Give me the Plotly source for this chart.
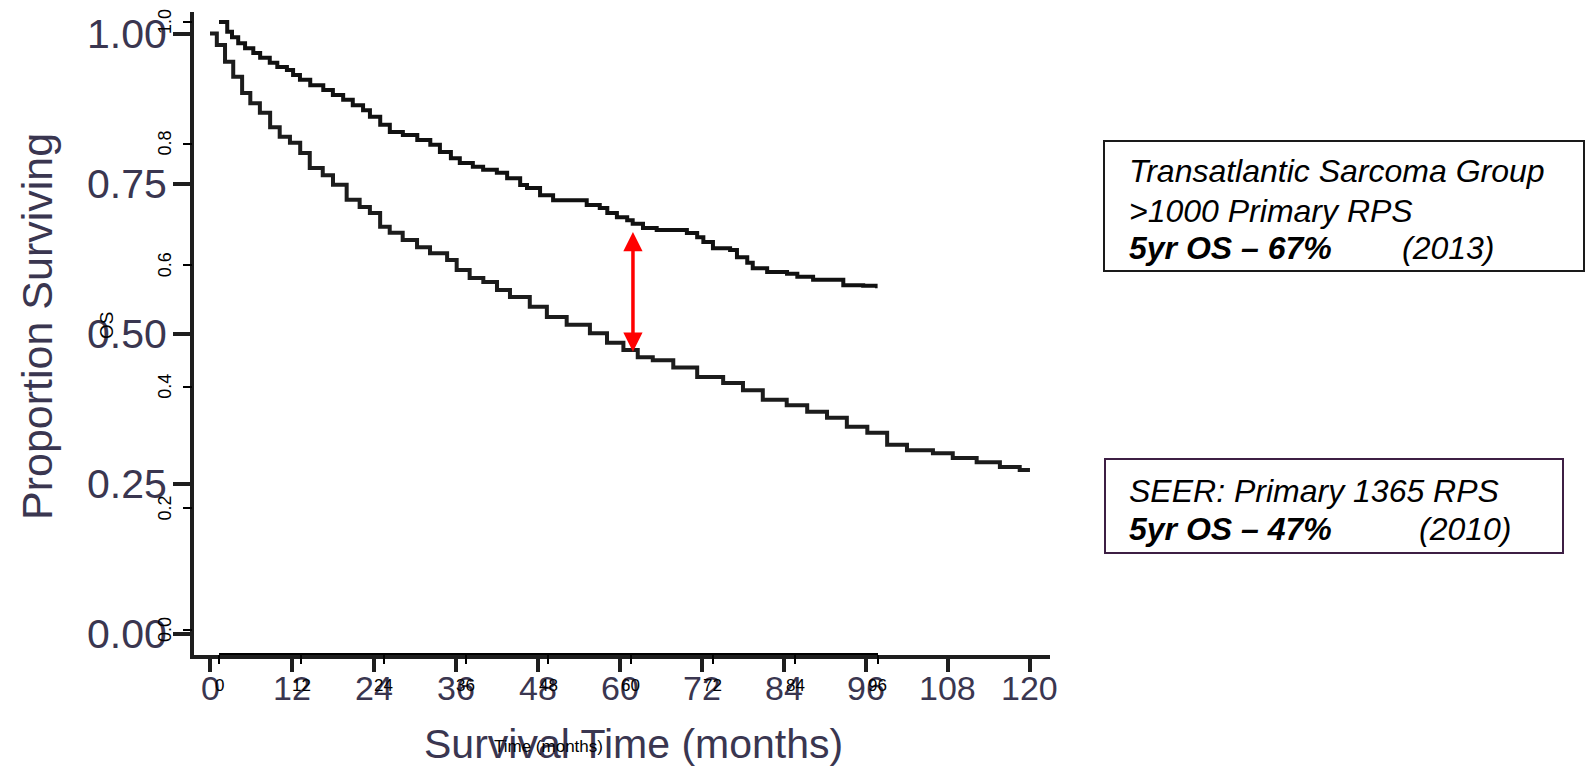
import plotly.graph_objects as go

# ---------------- data ----------------
# SEER primary RPS (main axes, 0-120 months)
seer_months = [0, 1.0, 2.2, 3.4, 4.7, 5.9, 7.3, 8.8, 10.2, 11.7, 13.2, 14.6, 16.5, 18.0, 20.0,
               21.9, 23.4, 24.9, 26.3, 28.2, 30.3, 32.2, 34.7, 36.1, 38.0, 40.0, 42.0, 43.9,
               46.8, 49.3, 52.2, 55.6, 58.1, 60.5, 62.6, 64.8, 67.8, 71.3, 75.1, 78.0, 80.9,
               84.4, 87.4, 90.3, 93.2, 96.2, 99.1, 102.0, 105.8, 108.7, 112.2, 115.6, 118.5, 120.0]
seer_surv = [1.0, 0.981, 0.953, 0.928, 0.901, 0.884, 0.868, 0.844, 0.828, 0.818, 0.801, 0.776,
             0.764, 0.748, 0.723, 0.711, 0.701, 0.678, 0.668, 0.656, 0.644, 0.634, 0.623, 0.606,
             0.593, 0.586, 0.573, 0.561, 0.545, 0.528, 0.515, 0.501, 0.485, 0.473, 0.461, 0.456,
             0.444, 0.428, 0.418, 0.406, 0.390, 0.381, 0.370, 0.360, 0.345, 0.335, 0.315, 0.306,
             0.301, 0.293, 0.286, 0.278, 0.273, 0.273]

# Transatlantic Sarcoma Group (overlaid axes, 0-96 months)
tsg_months = [0, 1.2, 1.9, 2.8, 3.8, 5.0, 6.0, 7.4, 8.5, 9.9, 10.8, 11.8, 13.3, 15.2, 16.6, 18.1,
              19.5, 21.0, 22.0, 23.5, 24.9, 26.8, 28.9, 30.8, 32.2, 33.8, 35.1, 37.0, 38.5, 40.5,
              42.0, 43.9, 44.9, 46.8, 48.7, 53.6, 55.5, 56.6, 58.0, 59.5, 60.3, 61.8, 63.8, 68.2,
              69.7, 70.6, 72.0, 74.5, 75.5, 77.0, 77.8, 79.9, 82.8, 84.3, 86.6, 91.0, 93.9, 95.9]
tsg_surv = [1.0, 0.984, 0.975, 0.965, 0.957, 0.949, 0.941, 0.933, 0.926, 0.921, 0.913, 0.905,
            0.896, 0.888, 0.880, 0.872, 0.863, 0.855, 0.844, 0.831, 0.819, 0.814, 0.806, 0.798,
            0.786, 0.776, 0.768, 0.762, 0.757, 0.752, 0.743, 0.732, 0.727, 0.715, 0.707, 0.699,
            0.694, 0.686, 0.679, 0.674, 0.668, 0.661, 0.658, 0.653, 0.646, 0.638, 0.628, 0.625,
            0.613, 0.604, 0.595, 0.589, 0.586, 0.581, 0.576, 0.567, 0.566, 0.562]

main_xticks = [0, 12, 24, 36, 48, 60, 72, 84, 96, 108, 120]
main_yticks = [0, 0.25, 0.5, 0.75, 1.0]
main_yticktext = ["0.00", "0.25", "0.50", "0.75", "1.00"]
sec_xticks = [0, 12, 24, 36, 48, 60, 72, 84, 96]
sec_yticks = [0, 0.2, 0.4, 0.6, 0.8, 1.0]
sec_yticktext = ["0.0", "0.2", "0.4", "0.6", "0.8", "1.0"]

arrow_month = 61.9
arrow_low, arrow_high = 0.47, 0.672

box1_lines = ["Transatlantic Sarcoma Group", ">1000 Primary RPS"]
box1_bold, box1_year = "5yr OS \u2013 67%", "(2013)"
box2_line = "SEER: Primary 1365 RPS"
box2_bold, box2_year = "5yr OS \u2013 47%", "(2010)"

# ---------------- geometry helpers (page pixels -> paper) ----------------
OFF = 8
W, H = 1593 - 2 * OFF, 775 - 2 * OFF


def px(x):
    return (x - OFF) / W


def py(y):
    return 1 - (y - OFF) / H


BIG = "Liberation Sans, Arial, sans-serif"
BIGCOL = "#3a3650"
AXCOL = "#1e1e1e"
SMALL = dict(family=BIG, size=17, color="black")

# main axes pixel geometry: t=0 at 210 px, 6.833 px / month ; S=0 at 634 px, 600.5 px / unit
X_L, X_R = 194, 1050
Y_B, Y_T = 655, 12
x_rng = [(X_L - 210) / 6.833, (X_R - 210) / 6.833]
y_rng = [(634 - Y_B) / 600.5, (634 - Y_T) / 600.5]

fig = go.Figure()
fig.add_trace(go.Scatter(x=seer_months, y=seer_surv, mode="lines", line=dict(color="#1c1c1c", width=4, shape="hv"),
                         xaxis="x", yaxis="y", showlegend=False, cliponaxis=False))
fig.add_trace(go.Scatter(x=tsg_months, y=tsg_surv, mode="lines", line=dict(color="#111111", width=4, shape="hv"),
                         xaxis="x2", yaxis="y2", showlegend=False, cliponaxis=False))

fig.update_layout(
    width=W, height=H, margin=dict(l=0, r=0, t=0, b=0),
    paper_bgcolor="white", plot_bgcolor="rgba(0,0,0,0)",
    showlegend=False,
    xaxis=dict(domain=[px(X_L), px(X_R)], range=x_rng, anchor="y",
               tickvals=main_xticks, showticklabels=False, ticks="outside", ticklen=13, tickwidth=4,
               tickcolor=AXCOL, showline=True, linewidth=4, linecolor=AXCOL, showgrid=False, zeroline=False),
    yaxis=dict(domain=[py(Y_B), py(Y_T)], range=y_rng, anchor="x",
               tickvals=main_yticks, showticklabels=False, ticks="outside", ticklen=17, tickwidth=4,
               tickcolor=AXCOL, showline=True, linewidth=4, linecolor=AXCOL, showgrid=False, zeroline=False),
    xaxis2=dict(domain=[px(219), px(877.6)], range=[0, 96], anchor="y2",
                tickvals=sec_xticks, showticklabels=False, ticks="outside", ticklen=9, tickwidth=1.5,
                tickcolor="black", showline=True, linewidth=1.5, linecolor="black", showgrid=False,
                zeroline=False),
    yaxis2=dict(domain=[py(653), py(12)], range=[(630 - 653) / 608, (630 - 12) / 608], anchor="free",
                position=px(192), tickvals=sec_yticks, showticklabels=False, ticks="outside", ticklen=9,
                tickwidth=1.5, tickcolor="black", showline=False, showgrid=False, zeroline=False),
)

annotations = []
# big main tick labels placed through the main axes
for v in main_xticks:
    annotations.append(dict(text=str(v), x=v, xref="x", y=py(688), yref="paper", showarrow=False,
                            font=dict(family=BIG, size=34, color=BIGCOL), xanchor="center", yanchor="middle"))
for v, t in zip(main_yticks, main_yticktext):
    annotations.append(dict(text=t, x=px(169), xref="paper", y=v, yref="y", showarrow=False,
                            font=dict(family=BIG, size=41, color=BIGCOL), xanchor="right", yanchor="middle"))

annotations += [
    dict(text="Proportion Surviving", x=px(37), y=py(327), xref="paper", yref="paper", textangle=-90,
         showarrow=False, font=dict(family=BIG, size=43, color=BIGCOL), xanchor="center", yanchor="middle"),
    dict(text="Survival Time (months)", x=px(633), y=py(744), xref="paper", yref="paper",
         showarrow=False, font=dict(family=BIG, size=41, color=BIGCOL), xanchor="center", yanchor="middle"),
]

# small overlaid-plot labels, drawn on top of the big ones
for v in sec_xticks:
    annotations.append(dict(text=str(v), x=v, xref="x2", y=py(685), yref="paper", showarrow=False,
                            font=SMALL, xanchor="center", yanchor="middle"))
for v, t in zip(sec_yticks, sec_yticktext):
    annotations.append(dict(text=t, x=px(165), xref="paper", y=v, yref="y2", showarrow=False, textangle=-90,
                            font=dict(family=BIG, size=18, color="black"), xanchor="center", yanchor="middle"))

annotations += [
    dict(text="Time (months)", x=px(548), y=py(746), xref="paper", yref="paper",
         showarrow=False, font=SMALL, xanchor="center", yanchor="middle"),
    dict(text="OS", x=px(106), y=py(326), xref="paper", yref="paper", textangle=-90,
         showarrow=False, font=dict(family=BIG, size=19, color="black"), xanchor="center", yanchor="middle"),
    # red double-headed arrow between the two 5-year survival values
    dict(x=arrow_month, y=arrow_low, ax=arrow_month, ay=arrow_high, xref="x", yref="y", axref="x", ayref="y",
         text="", showarrow=True, arrowhead=2, startarrowhead=2, arrowside="end+start", arrowsize=1.1,
         startarrowsize=1.1, arrowwidth=3.5, arrowcolor="#ff0000", standoff=0, startstandoff=0),
]

TXT = dict(family=BIG, size=32, color="black")
x_text = px(1127)
for line, yy in zip(box1_lines, [171, 211]):
    annotations.append(dict(text="<i>" + line + "</i>", x=x_text, y=py(yy), xref="paper", yref="paper",
                            showarrow=False, font=TXT, xanchor="left", yanchor="middle"))
annotations.append(dict(text="<b><i>" + box1_bold + "</i></b>", x=x_text, y=py(248), xref="paper", yref="paper",
                        showarrow=False, font=TXT, xanchor="left", yanchor="middle"))
annotations.append(dict(text="<i>" + box1_year + "</i>", x=px(1400), y=py(248), xref="paper", yref="paper",
                        showarrow=False, font=TXT, xanchor="left", yanchor="middle"))
annotations.append(dict(text="<i>" + box2_line + "</i>", x=x_text, y=py(491), xref="paper", yref="paper",
                        showarrow=False, font=TXT, xanchor="left", yanchor="middle"))
annotations.append(dict(text="<b><i>" + box2_bold + "</i></b>", x=x_text, y=py(529), xref="paper", yref="paper",
                        showarrow=False, font=TXT, xanchor="left", yanchor="middle"))
annotations.append(dict(text="<i>" + box2_year + "</i>", x=px(1417), y=py(529), xref="paper", yref="paper",
                        showarrow=False, font=TXT, xanchor="left", yanchor="middle"))

shapes = [
    dict(type="rect", xref="paper", yref="paper", x0=px(1104), x1=px(1584), y0=py(271), y1=py(141),
         line=dict(color="#1a1a1a", width=2), fillcolor="rgba(0,0,0,0)"),
    dict(type="rect", xref="paper", yref="paper", x0=px(1105), x1=px(1563), y0=py(553), y1=py(459),
         line=dict(color="#3d1f44", width=2), fillcolor="rgba(0,0,0,0)"),
]

fig.update_layout(annotations=annotations, shapes=shapes)
fig.write_html("out.html")
